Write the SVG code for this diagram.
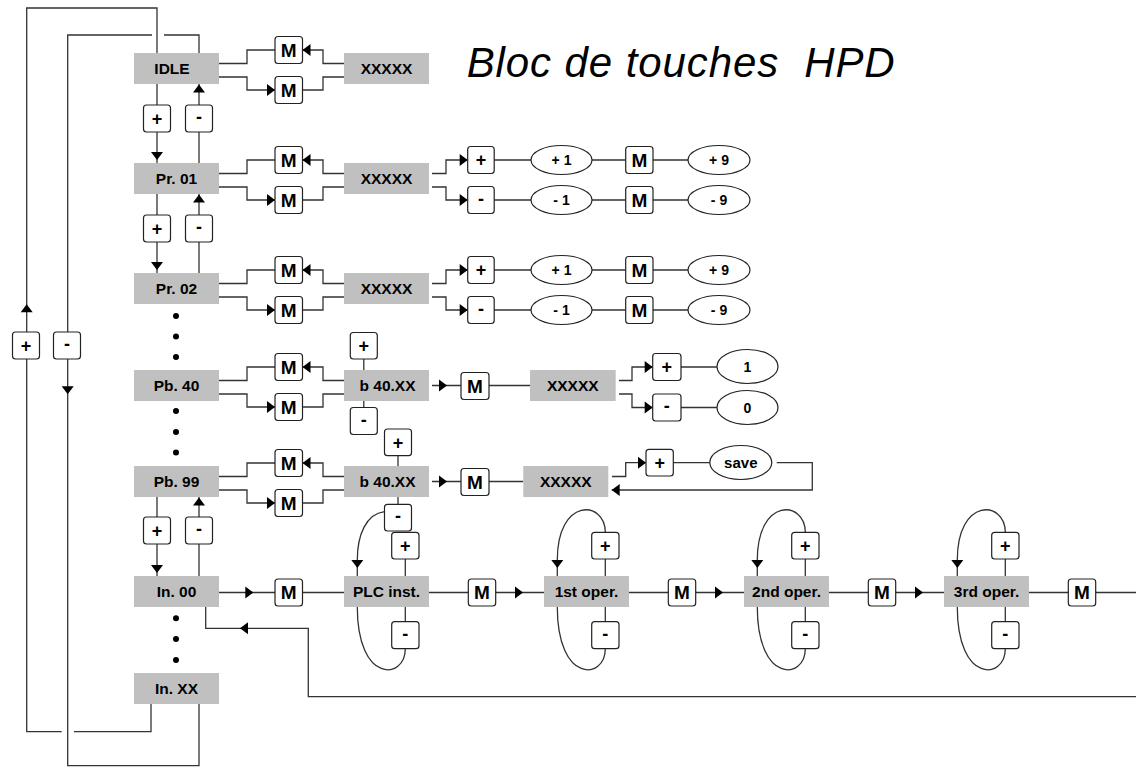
<svg xmlns="http://www.w3.org/2000/svg" width="1136" height="767" viewBox="0 0 1136 767">
<style>
.box{fill:#c0c0c0}
.btn{fill:#fff;stroke:#222;stroke-width:1.2}
.ell{fill:#fff;stroke:#222;stroke-width:1.2}
.ln{fill:none;stroke:#333;stroke-width:1.3}
.t{font-family:"Liberation Sans",Arial,sans-serif;font-weight:bold;text-anchor:middle;fill:#000}
.lb{font-size:15.5px}
.m{font-size:19px}
.pm{font-size:18px}
.e{font-size:14px}
.dot{fill:#000}
.title{font-family:"Liberation Sans",Arial,sans-serif;font-style:italic;font-size:42px;fill:#000}
</style>
<defs>
<path id="ar" d="M0,0 L-8,-6 L-8,6 Z" fill="#000"/>
</defs>
<rect width="1136" height="767" fill="#fff"/>

<g id="connectors">
<!-- outer and inner loops -->
<path class="ln" d="M157,53 V8 H26.7 V731.7 H61.7 M74,731.7 H151 V704"/>
<path class="ln" d="M199,53 V35 H164 M152,35 H67.7 V765.7 H199 V704"/>
<use href="#ar" transform="translate(26.7,304.3) rotate(-90)"/>
<use href="#ar" transform="translate(67.7,394.3) rotate(90)"/>
<!-- vertical +/- between main rows -->
<path class="ln" d="M157,84 V163 M199,163 V84"/>
<use href="#ar" transform="translate(157,160) rotate(90)"/>
<use href="#ar" transform="translate(199,84.5) rotate(-90)"/>
<path class="ln" d="M157,194 V273 M199,273 V194"/>
<use href="#ar" transform="translate(157,270) rotate(90)"/>
<use href="#ar" transform="translate(199,194.5) rotate(-90)"/>
<path class="ln" d="M157,497 V576 M199,576 V497"/>
<use href="#ar" transform="translate(157,573) rotate(90)"/>
<use href="#ar" transform="translate(199,497.5) rotate(-90)"/>
<!-- M branches rows -->
<path class="ln" d="M219,63.5 H247 V50 H275 M344,63.5 H323 V50 H302.5 M219,77 H247 V90 H275 M302.5,90 H323 V77 H344"/>
<use href="#ar" transform="translate(302.5,50) rotate(180)"/>
<use href="#ar" transform="translate(275,90)"/>
<path class="ln" d="M219,173.5 H247 V160 H275 M344,173.5 H323 V160 H302.5 M219,187 H247 V200 H275 M302.5,200 H323 V187 H344"/>
<use href="#ar" transform="translate(302.5,160) rotate(180)"/>
<use href="#ar" transform="translate(275,200)"/>
<path class="ln" d="M219,283.5 H247 V270 H275 M344,283.5 H323 V270 H302.5 M219,297 H247 V310 H275 M302.5,310 H323 V297 H344"/>
<use href="#ar" transform="translate(302.5,270) rotate(180)"/>
<use href="#ar" transform="translate(275,310)"/>
<path class="ln" d="M219,380.5 H247 V367 H275 M344,380.5 H323 V367 H302.5 M219,394 H247 V407 H275 M302.5,407 H323 V394 H344"/>
<use href="#ar" transform="translate(302.5,367) rotate(180)"/>
<use href="#ar" transform="translate(275,407)"/>
<path class="ln" d="M219,476.5 H247 V463 H275 M344,476.5 H323 V463 H302.5 M219,490 H247 V503 H275 M302.5,503 H323 V490 H344"/>
<use href="#ar" transform="translate(302.5,463) rotate(180)"/>
<use href="#ar" transform="translate(275,503)"/>
<!-- Pr.01 outputs -->
<path class="ln" d="M432,173.5 H446 V160 H467.7 M432,187 H446 V200 H467.7 M494,160 H531 M592,160 H625.7 M653,160 H688 M494,200 H531 M592,200 H625.7 M653,200 H688"/>
<use href="#ar" transform="translate(467.7,160)"/>
<use href="#ar" transform="translate(467.7,200)"/>
<!-- Pr.02 outputs -->
<path class="ln" d="M432,283.5 H446 V270 H467.7 M432,297 H446 V310 H467.7 M494,270 H531 M592,270 H625.7 M653,270 H688 M494,310 H531 M592,310 H625.7 M653,310 H688"/>
<use href="#ar" transform="translate(467.7,270)"/>
<use href="#ar" transform="translate(467.7,310)"/>
<!-- Pb.40 chain -->
<path class="ln" d="M363.8,359 V370 M363.8,401 V407.5 M432,385.5 H461 M489,385.5 H530 M619,380.5 H632 V367 H652.7 M619,394 H632 V407.5 H652.7 M681,367 H717 M681,407.5 H717"/>
<use href="#ar" transform="translate(447,385.5)"/>
<use href="#ar" transform="translate(652.7,367)"/>
<use href="#ar" transform="translate(652.7,407.5)"/>
<!-- Pb.99 chain -->
<path class="ln" d="M398,455.7 V466 M398,497 V504.3 M432,481.5 H461 M489,481.5 H523.3 M612,476.5 H625.7 V462.7 H646 M673.3,462.7 H710 M776.7,462.7 H812.3 V490 H611.7"/>
<use href="#ar" transform="translate(447,481.5)"/>
<use href="#ar" transform="translate(646,462.7)"/>
<use href="#ar" transform="translate(611.7,490) rotate(180)"/>
<!-- In.00 chain -->
<path class="ln" d="M219,592.5 H275 M302.5,592.5 H344"/>
<use href="#ar" transform="translate(253.3,592.5)"/>
<!-- PLC inst -->
<path class="ln" d="M405.3,558.9 V576 M405.3,607 V621.7 M405.3,648.7 C405.3,680 357.3,684 357.3,607 M384.5,511.7 C366,514 357.3,535 357.3,560 V576 M429,592.5 H468.3 M495.7,592.5 H544"/>
<use href="#ar" transform="translate(357.3,568) rotate(90)"/>
<use href="#ar" transform="translate(523,592.5)"/>
<!-- 1st oper -->
<path class="ln" d="M605.3,558.9 V576 M605.3,607 V621.7 M605.3,648.7 C605.3,680 557.3,684 557.3,607 M605.3,532.3 C605.3,500 557.3,497 557.3,560 V576 M629,592.5 H668.3 M695.7,592.5 H744"/>
<use href="#ar" transform="translate(557.3,568) rotate(90)"/>
<use href="#ar" transform="translate(723,592.5)"/>
<!-- 2nd oper -->
<path class="ln" d="M805.3,558.9 V576 M805.3,607 V621.7 M805.3,648.7 C805.3,680 757.3,684 757.3,607 M805.3,532.3 C805.3,500 757.3,497 757.3,560 V576 M829,592.5 H868.3 M895.7,592.5 H944"/>
<use href="#ar" transform="translate(757.3,568) rotate(90)"/>
<use href="#ar" transform="translate(923,592.5)"/>
<!-- 3rd oper -->
<path class="ln" d="M1005.3,558.9 V576 M1005.3,607 V621.7 M1005.3,648.7 C1005.3,680 957.3,684 957.3,607 M1005.3,532.3 C1005.3,500 957.3,497 957.3,560 V576 M1029,592.5 H1068.3 M1095.7,592.5 H1136"/>
<use href="#ar" transform="translate(957.3,568) rotate(90)"/>
<!-- return line -->
<path class="ln" d="M1136,696.7 H308.3 V628.3 H205.7 V607"/>
<use href="#ar" transform="translate(240,628.3) rotate(180)"/>
</g>

<g id="title">
<text class="title" x="466.7" y="77" textLength="428" xml:space="preserve">Bloc de touches  HPD</text>
</g>

<!-- left loop buttons -->
<g id="btn-loop-plus"><rect class="btn" x="12.5" y="332" width="27" height="27" rx="3"/><text class="t pm" x="26" y="351.5">+</text></g>
<g id="btn-loop-minus"><rect class="btn" x="53.5" y="332" width="27" height="27" rx="3"/><text class="t pm" x="67" y="350">-</text></g>

<!-- main column -->
<g id="n-idle"><rect class="box" x="134" y="53" width="85" height="31"/><text class="t lb" x="172" y="74">IDLE</text></g>
<g id="n-pr01"><rect class="box" x="134" y="163" width="85" height="31"/><text class="t lb" x="176.5" y="184">Pr. 01</text></g>
<g id="n-pr02"><rect class="box" x="134" y="273" width="85" height="31"/><text class="t lb" x="176.5" y="294">Pr. 02</text></g>
<g id="n-pb40"><rect class="box" x="134" y="370" width="85" height="31"/><text class="t lb" x="176.5" y="391">Pb. 40</text></g>
<g id="n-pb99"><rect class="box" x="134" y="466" width="85" height="31"/><text class="t lb" x="176.5" y="487">Pb. 99</text></g>
<g id="n-in00"><rect class="box" x="134" y="576" width="85" height="31"/><text class="t lb" x="176.5" y="597">In. 00</text></g>
<g id="n-inxx"><rect class="box" x="134" y="673" width="85" height="31"/><text class="t lb" x="176.5" y="694">In. XX</text></g>

<g id="dots">
<circle class="dot" cx="176" cy="316" r="3"/><circle class="dot" cx="176" cy="336.5" r="3"/><circle class="dot" cx="176" cy="357" r="3"/>
<circle class="dot" cx="176" cy="411" r="3"/><circle class="dot" cx="176" cy="432" r="3"/><circle class="dot" cx="176" cy="452.5" r="3"/>
<circle class="dot" cx="176" cy="618.3" r="3"/><circle class="dot" cx="176" cy="639" r="3"/><circle class="dot" cx="176" cy="660" r="3"/>
</g>

<!-- column +/- buttons -->
<g id="b-c1p"><rect class="btn" x="143.5" y="105" width="27" height="27" rx="3"/><text class="t pm" x="157" y="124.5">+</text></g>
<g id="b-c1m"><rect class="btn" x="185.5" y="105" width="27" height="27" rx="3"/><text class="t pm" x="199" y="123">-</text></g>
<g id="b-c2p"><rect class="btn" x="143.5" y="215" width="27" height="27" rx="3"/><text class="t pm" x="157" y="234.5">+</text></g>
<g id="b-c2m"><rect class="btn" x="185.5" y="215" width="27" height="27" rx="3"/><text class="t pm" x="199" y="233">-</text></g>
<g id="b-c3p"><rect class="btn" x="143.5" y="517" width="27" height="27" rx="3"/><text class="t pm" x="157" y="536.5">+</text></g>
<g id="b-c3m"><rect class="btn" x="185.5" y="517" width="27" height="27" rx="3"/><text class="t pm" x="199" y="535">-</text></g>

<!-- M buttons rows -->
<g id="m-r1u"><rect class="btn" x="275" y="36.5" width="27.5" height="27" rx="3"/><text class="t m" x="288.75" y="56.8">M</text></g>
<g id="m-r1d"><rect class="btn" x="275" y="76.5" width="27.5" height="27" rx="3"/><text class="t m" x="288.75" y="96.8">M</text></g>
<g id="m-r2u"><rect class="btn" x="275" y="146.5" width="27.5" height="27" rx="3"/><text class="t m" x="288.75" y="166.8">M</text></g>
<g id="m-r2d"><rect class="btn" x="275" y="186.5" width="27.5" height="27" rx="3"/><text class="t m" x="288.75" y="206.8">M</text></g>
<g id="m-r3u"><rect class="btn" x="275" y="256.5" width="27.5" height="27" rx="3"/><text class="t m" x="288.75" y="276.8">M</text></g>
<g id="m-r3d"><rect class="btn" x="275" y="296.5" width="27.5" height="27" rx="3"/><text class="t m" x="288.75" y="316.8">M</text></g>
<g id="m-r4u"><rect class="btn" x="275" y="353.5" width="27.5" height="27" rx="3"/><text class="t m" x="288.75" y="373.8">M</text></g>
<g id="m-r4d"><rect class="btn" x="275" y="393.5" width="27.5" height="27" rx="3"/><text class="t m" x="288.75" y="413.8">M</text></g>
<g id="m-r5u"><rect class="btn" x="275" y="449.5" width="27.5" height="27" rx="3"/><text class="t m" x="288.75" y="469.8">M</text></g>
<g id="m-r5d"><rect class="btn" x="275" y="489.5" width="27.5" height="27" rx="3"/><text class="t m" x="288.75" y="509.8">M</text></g>

<!-- value boxes -->
<g id="v-idle"><rect class="box" x="344" y="53" width="85" height="31"/><text class="t lb" x="386.5" y="74">XXXXX</text></g>
<g id="v-pr01"><rect class="box" x="344" y="163" width="85" height="31"/><text class="t lb" x="386.5" y="184">XXXXX</text></g>
<g id="v-pr02"><rect class="box" x="344" y="273" width="85" height="31"/><text class="t lb" x="386.5" y="294">XXXXX</text></g>

<!-- Pr.01 right -->
<g id="p1-plus"><rect class="btn" x="467.7" y="146.5" width="26.5" height="27" rx="3"/><text class="t pm" x="481" y="166">+</text></g>
<g id="p1-minus"><rect class="btn" x="467.7" y="186.5" width="26.5" height="27" rx="3"/><text class="t pm" x="481" y="204.5">-</text></g>
<g id="p1-e1"><ellipse class="ell" cx="561.5" cy="160" rx="30.5" ry="14.5"/><text class="t e" x="561.5" y="165">+ 1</text></g>
<g id="p1-e2"><ellipse class="ell" cx="561.5" cy="200" rx="30.5" ry="14.5"/><text class="t e" x="561.5" y="205">- 1</text></g>
<g id="p1-m1"><rect class="btn" x="625.7" y="146.5" width="27.3" height="27" rx="3"/><text class="t m" x="639.3" y="166.8">M</text></g>
<g id="p1-m2"><rect class="btn" x="625.7" y="186.5" width="27.3" height="27" rx="3"/><text class="t m" x="639.3" y="206.8">M</text></g>
<g id="p1-e3"><ellipse class="ell" cx="719" cy="160" rx="31" ry="14.5"/><text class="t e" x="719" y="165">+ 9</text></g>
<g id="p1-e4"><ellipse class="ell" cx="719" cy="200" rx="31" ry="14.5"/><text class="t e" x="719" y="205">- 9</text></g>

<!-- Pr.02 right -->
<g id="p2-plus"><rect class="btn" x="467.7" y="256.5" width="26.5" height="27" rx="3"/><text class="t pm" x="481" y="276">+</text></g>
<g id="p2-minus"><rect class="btn" x="467.7" y="296.5" width="26.5" height="27" rx="3"/><text class="t pm" x="481" y="314.5">-</text></g>
<g id="p2-e1"><ellipse class="ell" cx="561.5" cy="270" rx="30.5" ry="14.5"/><text class="t e" x="561.5" y="275">+ 1</text></g>
<g id="p2-e2"><ellipse class="ell" cx="561.5" cy="310" rx="30.5" ry="14.5"/><text class="t e" x="561.5" y="315">- 1</text></g>
<g id="p2-m1"><rect class="btn" x="625.7" y="256.5" width="27.3" height="27" rx="3"/><text class="t m" x="639.3" y="276.8">M</text></g>
<g id="p2-m2"><rect class="btn" x="625.7" y="296.5" width="27.3" height="27" rx="3"/><text class="t m" x="639.3" y="316.8">M</text></g>
<g id="p2-e3"><ellipse class="ell" cx="719" cy="270" rx="31" ry="14.5"/><text class="t e" x="719" y="275">+ 9</text></g>
<g id="p2-e4"><ellipse class="ell" cx="719" cy="310" rx="31" ry="14.5"/><text class="t e" x="719" y="315">- 9</text></g>

<!-- Pb.40 right -->
<g id="b40-a"><rect class="box" x="344" y="370" width="85" height="31"/><text class="t lb" x="387.5" y="391">b 40.XX</text></g>
<g id="b40-a-plus"><rect class="btn" x="350.3" y="332.5" width="27" height="26.5" rx="3"/><text class="t pm" x="363.8" y="351.8">+</text></g>
<g id="b40-a-minus"><rect class="btn" x="350.3" y="407.5" width="27" height="27" rx="3"/><text class="t pm" x="363.8" y="425.5">-</text></g>
<g id="b40-a-m"><rect class="btn" x="461" y="372.5" width="28" height="27" rx="3"/><text class="t m" x="475" y="392.8">M</text></g>
<g id="pb40-val"><rect class="box" x="530" y="370" width="85.7" height="31"/><text class="t lb" x="572.8" y="391">XXXXX</text></g>
<g id="pb40-plus"><rect class="btn" x="652.7" y="353.5" width="28.3" height="27" rx="3"/><text class="t pm" x="666.8" y="373">+</text></g>
<g id="pb40-minus"><rect class="btn" x="652.7" y="394" width="28.3" height="27" rx="3"/><text class="t pm" x="666.8" y="412">-</text></g>
<g id="pb40-e1"><ellipse class="ell" cx="747.5" cy="366.5" rx="30.5" ry="17"/><text class="t e" x="747.5" y="371.5">1</text></g>
<g id="pb40-e0"><ellipse class="ell" cx="747.5" cy="407.5" rx="30.5" ry="17"/><text class="t e" x="747.5" y="412.5">0</text></g>

<!-- Pb.99 right -->
<g id="b40-b"><rect class="box" x="344" y="466" width="85" height="31"/><text class="t lb" x="387.5" y="487">b 40.XX</text></g>
<g id="b40-b-plus"><rect class="btn" x="384.5" y="429" width="27" height="26.7" rx="3"/><text class="t pm" x="398" y="448.5">+</text></g>
<g id="b40-b-minus"><rect class="btn" x="384.5" y="504.3" width="27" height="26.7" rx="3"/><text class="t pm" x="398" y="522">-</text></g>
<g id="b40-b-m"><rect class="btn" x="461" y="468.5" width="28" height="27" rx="3"/><text class="t m" x="475" y="488.8">M</text></g>
<g id="pb99-val"><rect class="box" x="523.3" y="466" width="85" height="31"/><text class="t lb" x="565.8" y="487">XXXXX</text></g>
<g id="pb99-plus"><rect class="btn" x="646" y="449.3" width="27.3" height="26.7" rx="3"/><text class="t pm" x="659.7" y="468.7">+</text></g>
<g id="pb99-save"><ellipse class="ell" cx="740.8" cy="462.5" rx="31" ry="17"/><text class="t" style="font-size:15px" x="740.8" y="467.7">save</text></g>

<!-- In.00 chain -->
<g id="in00-m"><rect class="btn" x="275" y="579" width="27.5" height="27" rx="3"/><text class="t m" x="288.75" y="599.3">M</text></g>

<g id="plc"><rect class="box" x="344" y="576" width="85" height="31"/><text class="t lb" x="386.5" y="597">PLC inst.</text></g>
<g id="plc-plus"><rect class="btn" x="391.7" y="532.3" width="27.3" height="26.7" rx="3"/><text class="t pm" x="405.3" y="551.7">+</text></g>
<g id="plc-minus"><rect class="btn" x="391.7" y="621.7" width="27.3" height="27" rx="3"/><text class="t pm" x="405.3" y="639.7">-</text></g>
<g id="plc-m"><rect class="btn" x="468.3" y="579" width="27.4" height="27" rx="3"/><text class="t m" x="482" y="599.3">M</text></g>

<g id="op1"><rect class="box" x="544" y="576" width="85" height="31"/><text class="t lb" x="586.5" y="597">1st oper.</text></g>
<g id="op1-plus"><rect class="btn" x="591.7" y="532.3" width="27.3" height="26.7" rx="3"/><text class="t pm" x="605.3" y="551.7">+</text></g>
<g id="op1-minus"><rect class="btn" x="591.7" y="621.7" width="27.3" height="27" rx="3"/><text class="t pm" x="605.3" y="639.7">-</text></g>
<g id="op1-m"><rect class="btn" x="668.3" y="579" width="27.4" height="27" rx="3"/><text class="t m" x="682" y="599.3">M</text></g>

<g id="op2"><rect class="box" x="744" y="576" width="85" height="31"/><text class="t lb" x="786.5" y="597">2nd oper.</text></g>
<g id="op2-plus"><rect class="btn" x="791.7" y="532.3" width="27.3" height="26.7" rx="3"/><text class="t pm" x="805.3" y="551.7">+</text></g>
<g id="op2-minus"><rect class="btn" x="791.7" y="621.7" width="27.3" height="27" rx="3"/><text class="t pm" x="805.3" y="639.7">-</text></g>
<g id="op2-m"><rect class="btn" x="868.3" y="579" width="27.4" height="27" rx="3"/><text class="t m" x="882" y="599.3">M</text></g>

<g id="op3"><rect class="box" x="944" y="576" width="85" height="31"/><text class="t lb" x="986.5" y="597">3rd oper.</text></g>
<g id="op3-plus"><rect class="btn" x="991.7" y="532.3" width="27.3" height="26.7" rx="3"/><text class="t pm" x="1005.3" y="551.7">+</text></g>
<g id="op3-minus"><rect class="btn" x="991.7" y="621.7" width="27.3" height="27" rx="3"/><text class="t pm" x="1005.3" y="639.7">-</text></g>
<g id="op3-m"><rect class="btn" x="1068.3" y="579" width="27.4" height="27" rx="3"/><text class="t m" x="1082" y="599.3">M</text></g>
</svg>
